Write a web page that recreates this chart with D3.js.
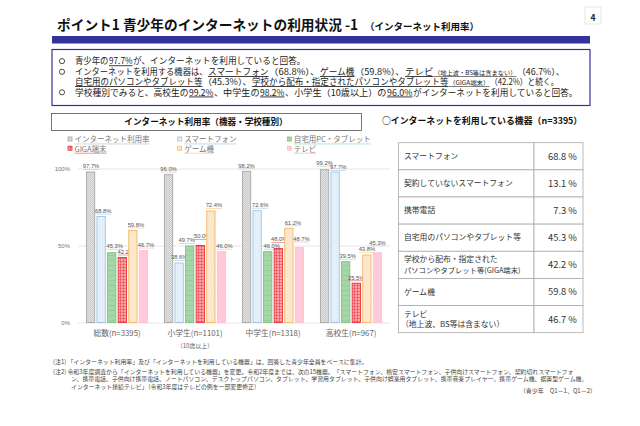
<!DOCTYPE html>
<html>
<head>
<meta charset="utf-8">
<script src="https://cdn.jsdelivr.net/npm/d3@7"></script>
<style>
  html, body { margin: 0; padding: 0; background: #fff; }
  svg { display: block; }
  text { font-family: "Noto Sans CJK JP", "Noto Sans", sans-serif; }
</style>
</head>
<body>
<svg id="chart" width="640" height="426"></svg>
<script>
const groups = ["総数(n=3395)", "小学生(n=1101)", "中学生(n=1318)", "高校生(n=967)"];
const seriesNames = ["インターネット利用率", "スマートフォン", "自宅用PC・タブレット", "GIGA端末", "ゲーム機", "テレビ"];
const internetRate = [97.7, 96.0, 98.2, 99.2];
const smartphone = [68.8, 38.6, 72.6, 97.7];
const homePc = [45.3, 49.7, 46.0, 39.5];
const giga = [42.2, 50.0, 48.0, 25.5];
const gameConsole = [59.8, 72.4, 61.2, 43.8];
const tv = [46.7, 46.0, 48.7, 45.3];
const yTicks = [0, 50, 100];

const tableLabels = [
  ["スマートフォン"],
  ["契約していないスマートフォン"],
  ["携帯電話"],
  ["自宅用のパソコンやタブレット等"],
  ["学校から配布・指定された", "パソコンやタブレット等(GIGA端末)"],
  ["ゲーム機"],
  ["テレビ", "（地上波、BS等は含まない）"]
];
const tableValues = [68.8, 13.1, 7.3, 45.3, 42.2, 59.8, 46.7];

const titleMain = "ポイント1 青少年のインターネットの利用状況 -1";
const titleSub = "（インターネット利用率）";
// each part: text, kind (u = underlined, us = small underlined), start x
const summaryLines = [
  { bullet: true, end: 306, parts: [["青少年の", "", 75], ["97.7%", "u", 109], ["が、インターネットを利用していると回答。", "", 133]] },
  { bullet: true, end: 565, parts: [["インターネットを利用する機器は、", "", 75], ["スマートフォン", "u", 208], ["（68.8%）、", "", 269], ["ゲーム機", "u", 320], ["（59.8%）、", "", 355], ["テレビ", "u", 405], ["（地上波・BS等は含まない）", "us", 434], ["（46.7%）、", "", 517]] },
  { bullet: false, end: 559, parts: [["自宅用のパソコンやタブレット等", "u", 75], ["（45.3%）、", "", 203], ["学校から配布・指定されたパソコンやタブレット等", "u", 252], ["（GIGA端末）", "us", 449], ["（42.2%）と続く。", "", 490]] },
  { bullet: true, end: 578, parts: [["学校種別でみると、高校生の", "", 75], ["99.2%", "u", 189], ["、中学生の", "", 214], ["98.2%", "u", 260], ["、小学生（10歳以上）の", "", 285], ["96.0%", "u", 387], ["がインターネットを利用していると回答。", "", 413]] }
];
const notes = [
  "(注1) 「インターネット利用率」及び「インターネットを利用している機器」は、回答した青少年全員をベースに集計。",
  "(注2) 令和3年度調査から「インターネットを利用している機器」を変更。令和2年度までは、次の15機器。「スマートフォン、格安スマートフォン、子供向けスマートフォン、契約切れスマートフォ",
  "ン、携帯電話、子供向け携帯電話、ノートパソコン、デスクトップパソコン、タブレット、学習用タブレット、子供向け娯楽用タブレット、携帯音楽プレイヤー、携帯ゲーム機、据置型ゲーム機、",
  "インターネット接続テレビ」（令和3年度はテレビの例を一部変更修正）"
];
const sourceNote = "（青少年　Q1－1、Q1－2）";

const seriesValues = [internetRate, smartphone, homePc, giga, gameConsole, tv];

// hand placed label shifts, the original moves them apart a bit [group][series]
const labelShiftX = [
  [0.5, 2, 3, 3.5, 3, 2.5],
  [0, 0, -3, 2, 3, 3],
  [0, 3, 4, 1, 4, 2],
  [0, 3, 2, 0, 0, 0]
];
const labelShiftY = [
  [0, 0, -1, 0, 0, 0],
  [0, 0, 0, -3.5, 0, 0],
  [0, 0, 0, -3.5, 0, -3],
  [-1, 1, 0, 0, 0, -4.5]
];

const svg = d3.select("#chart");
const defs = svg.append("defs");

// bar fills, one small tile per series
const addPattern = (id, w, h, bg, draw) => {
  const p = defs.append("pattern").attr("id", id)
    .attr("patternUnits", "userSpaceOnUse").attr("width", w).attr("height", h);
  p.append("rect").attr("width", w).attr("height", h).attr("fill", bg);
  draw(p);
};
addPattern("pGray", 2, 2, "#e4e4e4", p => p.append("path").attr("d", "M0 2L2 0").attr("stroke", "#bdbdbd").attr("stroke-width", 0.7));
addPattern("pBlue", 3, 3, "#e6f2fa", p => p.append("path").attr("d", "M0 0H3M0 0V3").attr("stroke", "#d3e6f3").attr("stroke-width", 0.5));
addPattern("pGreen", 8.7, 5, "#a5d6a7", p => p.append("path").attr("d", "M0 0H8.7").attr("stroke", "#7fc184").attr("stroke-width", 0.8));
addPattern("pRed", 3, 3, "#f8a5a8", p => p.append("path").attr("d", "M0 0H3M0 0V3").attr("stroke", "#ec3c44").attr("stroke-width", 1.1));
addPattern("pOrange", 3, 3, "#fbe9d0", p => p.append("path").attr("d", "M0 3L3 0").attr("stroke", "#f8ddb8").attr("stroke-width", 0.5));
addPattern("pPink", 3, 3, "#ffc8d6", p => p.append("path").attr("d", "M0 3L3 0").attr("stroke", "#ffd6e0").attr("stroke-width", 0.5));

const fills = ["url(#pGray)", "url(#pBlue)", "url(#pGreen)", "url(#pRed)", "url(#pOrange)", "url(#pPink)"];
const strokes = ["#a6a6a6", "#9dc3e6", "#7fc184", "#ee2f3a", "#f4b966", "#ffc0d0"];
const underlines = ["#d0d0d0", "#bcd6ee", "#b5e0b8", "#f28a90", "#f8d6a6", "#ffc0d0"];

// header
svg.append("text").attr("x", 57).attr("y", 30).attr("font-size", 13.7).attr("font-weight", 700).attr("fill", "#111").text(titleMain);
svg.append("text").attr("x", 365).attr("y", 30).attr("font-size", 9.5).attr("font-weight", 700).attr("fill", "#111").text(titleSub);
svg.append("rect").attr("x", 52).attr("y", 36).attr("width", 538).attr("height", 7.5).attr("fill", "#333399");
svg.append("rect").attr("x", 585).attr("y", 7).attr("width", 16).attr("height", 17).attr("fill", "#fff").attr("stroke", "#ddd").attr("stroke-width", 0.7);
svg.append("text").attr("x", 593).attr("y", 21).attr("text-anchor", "middle").attr("font-size", 8.5).attr("font-weight", 700).attr("fill", "#222").text("4");

// summary box
svg.append("rect").attr("x", 52).attr("y", 49.5).attr("width", 538).attr("height", 56).attr("fill", "#fff").attr("stroke", "#333399").attr("stroke-width", 1.2);
const lineY = [64.3, 75, 85, 95.5];
summaryLines.forEach((line, i) => {
  if (line.bullet) {
    svg.append("circle").attr("cx", 62).attr("cy", lineY[i] - 3.2).attr("r", 2.6).attr("fill", "none").attr("stroke", "#222").attr("stroke-width", 0.8);
  }
  line.parts.forEach(([s, kind, px], k) => {
    const next = k + 1 < line.parts.length ? line.parts[k + 1][2] : line.end;
    svg.append("text").attr("x", px).attr("y", lineY[i]).attr("fill", "#222")
      .attr("font-size", kind === "us" ? 5.8 : 8.6)
      .attr("textLength", next - px - 0.5)
      .attr("lengthAdjust", "spacingAndGlyphs")
      .style("text-decoration", kind ? "underline" : null)
      .text(s);
  });
});

// chart title box
svg.append("rect").attr("x", 51.5).attr("y", 113.5).attr("width", 310).attr("height", 17).attr("fill", "#fff").attr("stroke", "#555").attr("stroke-width", 0.8);
svg.append("text").attr("x", 206).attr("y", 125).attr("text-anchor", "middle").attr("font-size", 8.6).attr("font-weight", 700).attr("fill", "#111").text("インターネット利用率（機器・学校種別）");

// legend
const legendX = d3.scaleBand().domain([0, 1, 2]).range([67, 396]);
const legendY = d3.scaleBand().domain([0, 1]).range([134.5, 153]);
const legendOrder = d3.range(seriesNames.length);
const legend = svg.append("g").selectAll("g").data(legendOrder).join("g")
  .attr("transform", d => `translate(${legendX(d % 3)},${legendY(Math.floor(d / 3))})`);
legend.append("rect").attr("x", 1).attr("y", 2.5).attr("width", 4).attr("height", 4)
  .attr("fill", d => fills[d]).attr("stroke", d => strokes[d]).attr("stroke-width", 0.8);
legend.append("text").attr("x", 7.5).attr("y", 7.8).attr("font-size", 7.5).attr("fill", "#777").text(d => seriesNames[d]);
legend.each(function (d) {
  const g = d3.select(this);
  const w = g.select("text").node().getComputedTextLength();
  g.append("rect").attr("x", 7.5).attr("y", 9).attr("width", w).attr("height", 0.9).attr("fill", underlines[d]);
});

// chart
const x0 = d3.scaleBand().domain(groups).range([78, 390]);
const x1 = d3.scaleBand().domain(d3.range(seriesNames.length)).range([8, 70]).paddingInner(0.14);
const y = d3.scaleLinear().domain([0, 100]).range([322.5, 168.5]);

const yAxis = svg.append("g").attr("transform", "translate(78,0)")
  .call(d3.axisLeft(y).tickValues(yTicks).tickSize(-312).tickPadding(8).tickFormat(d => d + "%"));
yAxis.select(".domain").remove();
yAxis.selectAll("line").attr("stroke", "#e8e8e8").attr("stroke-width", 1.2);
yAxis.selectAll("text").attr("font-size", 6).attr("fill", "#777").style("font-family", '"Liberation Sans", sans-serif');

const groupG = svg.append("g").selectAll("g").data(groups).join("g")
  .attr("transform", d => `translate(${x0(d)},0)`);
const cells = groupG.selectAll("g")
  .data((d, gi) => seriesValues.map((vals, si) => ({ gi, si, value: vals[gi] })))
  .join("g");
cells.append("rect")
  .attr("x", d => x1(d.si) + 0.4)
  .attr("y", d => y(d.value))
  .attr("width", x1.bandwidth() - 0.8)
  .attr("height", d => y(0) - y(d.value))
  .attr("fill", d => fills[d.si])
  .attr("stroke", d => strokes[d.si])
  .attr("stroke-width", 0.9);
const labelX = d => x1(d.si) + x1.bandwidth() / 2 + labelShiftX[d.gi][d.si];
const labelY = d => y(d.value) - 3.6 + labelShiftY[d.gi][d.si];
cells.append("rect")
  .attr("x", d => labelX(d) - 8)
  .attr("y", d => labelY(d) + 0.7)
  .attr("width", 16)
  .attr("height", 0.8)
  .attr("fill", d => underlines[d.si]);
cells.append("text")
  .attr("x", labelX)
  .attr("y", labelY)
  .attr("text-anchor", "middle")
  .attr("font-size", 5.8)
  .attr("fill", "#555")
  .style("font-family", '"Liberation Sans", sans-serif')
  .text(d => d.value.toFixed(1) + "%");

const xAxis = svg.append("g").attr("transform", "translate(0,322.5)")
  .call(d3.axisBottom(x0).tickSize(0).tickPadding(8));
xAxis.select(".domain").remove();
xAxis.selectAll("text").attr("font-size", 7.8).attr("fill", "#666").style("font-family", '"Noto Sans CJK JP", sans-serif');
svg.append("text").attr("x", x0(groups[1]) + x0.bandwidth() / 2).attr("y", 348).attr("text-anchor", "middle").attr("font-size", 6).attr("fill", "#666").text("（10歳以上）");

// right table
svg.append("text").attr("x", 382).attr("y", 124).attr("font-size", 8.9).attr("font-weight", 700).attr("fill", "#111").text("○インターネットを利用している機器（n=3395）");
const rowY = d3.scaleBand().domain(d3.range(tableLabels.length)).range([142.7, 332.7]);
const row = svg.append("g").selectAll("g").data(tableLabels).join("g")
  .attr("transform", (d, i) => `translate(0,${rowY(i)})`);
row.append("rect").attr("x", 398.5).attr("width", 135.5).attr("height", rowY.bandwidth()).attr("fill", "#fff").attr("stroke", "#aaa").attr("stroke-width", 0.8);
row.append("rect").attr("x", 534).attr("width", 49).attr("height", rowY.bandwidth()).attr("fill", "#fff").attr("stroke", "#aaa").attr("stroke-width", 0.8);
row.each(function (lines, i) {
  const g = d3.select(this);
  lines.forEach((s, k) => {
    const top = rowY.bandwidth() / 2 + (k - (lines.length - 1) / 2) * 10.5 + 2.8;
    g.append("text").attr("x", i === 6 && k === 1 ? 401 : 404).attr("y", top).attr("font-size", k === 1 && i === 4 ? 7.3 : 7.8).attr("fill", "#333").text(s);
  });
  g.append("text").attr("x", 577).attr("y", rowY.bandwidth() / 2 + 3.5).attr("text-anchor", "end").attr("font-size", 9.4).attr("fill", "#333").text(tableValues[i].toFixed(1) + " %");
});

// footnotes
const noteX = [53, 53, 71, 71];
const noteY = [364, 374, 381, 388.5];
svg.append("g").selectAll("text").data(notes).join("text")
  .attr("x", (d, i) => noteX[i]).attr("y", (d, i) => noteY[i])
  .attr("font-size", 5.9).attr("fill", "#444").text(d => d);
svg.append("text").attr("x", 596).attr("y", 392.5).attr("text-anchor", "end").attr("font-size", 6).attr("fill", "#444").text(sourceNote);
</script>
</body>
</html>
